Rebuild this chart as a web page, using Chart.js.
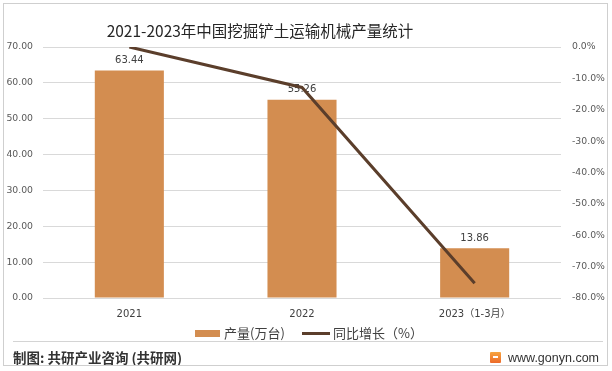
<!DOCTYPE html>
<html>
<head>
<meta charset="utf-8">
<script src="https://cdn.jsdelivr.net/npm/chart.js@4"></script>
<style>
  html, body { margin:0; padding:0; background:#fff; }
  #wrap { position:relative; width:612px; height:371px; overflow:hidden; font-family:"Noto Sans CJK SC","Noto Sans",sans-serif; }
  #box { position:absolute; left:3px; top:3px; width:605px; height:363px; border:1px solid #cfcfcf; box-sizing:border-box; pointer-events:none; }
  #cv { position:absolute; left:0; top:0; }
  #title { position:absolute; left:0; width:520px; top:19px; text-align:center; font-size:15.5px; color:#262626; line-height:22px; }
  #legend { position:absolute; top:325px; left:0; width:612px; height:16px; font-size:13px; color:#404040; }
  .sw { position:absolute; }
  .lt { position:absolute; top:0; line-height:16px; white-space:nowrap; }
  #sep { position:absolute; left:13px; top:341px; width:590px; height:1px; background:#d4d4d4; }
  #foot { position:absolute; left:13px; top:347px; font-size:13.5px; font-weight:bold; color:#333; line-height:20px; white-space:nowrap; }
  #site { position:absolute; left:508px; top:349px; font-size:12.5px; color:#333; line-height:18px; font-family:"Liberation Sans","Noto Sans",sans-serif; white-space:nowrap; }
  #logo { position:absolute; left:490px; top:352px; width:11px; height:11px; background:linear-gradient(#f7a540,#ec6a2a); border-radius:1px; }
  #logo:after { content:""; position:absolute; left:3px; top:4px; width:5px; height:2px; background:#fff; }
</style>
</head>
<body>
<div id="wrap">
  <canvas id="cv" width="612" height="371"></canvas>
  <div id="title">2021-2023年中国挖掘铲土运输机械产量统计</div>
  <div id="legend">
    <div class="sw" style="left:195px;top:5px;width:25px;height:7px;background:#D38D50"></div>
    <div class="lt" style="left:224px">产量(万台)</div>
    <div class="sw" style="left:302px;top:7px;width:28px;height:3px;background:#5B3E2B"></div>
    <div class="lt" style="left:333px">同比增长（%）</div>
  </div>
  <div id="sep"></div>
  <div id="foot">制图: 共研产业咨询 (共研网)</div>
  <div id="logo"></div>
  <div id="site">www.gonyn.com</div>
  <div id="box"></div>
</div>
<script>
const categories = ['2021', '2022', '2023（1-3月）'];
const outputValues = [63.44, 55.26, 13.86];
const growthValues = [0.0, -12.9, -75.3];
const leftAxisRange = [0, 70, 10];
const rightAxisRange = [-80, 0, 10];

const barColor = '#D38D50';
const lineColor = '#5B3E2B';
const tickFont = { size: 9.3, family: '"DejaVu Sans", sans-serif' };

const barLabels = {
  id: 'barLabels',
  afterDatasetDraw(chart, args) {
    if (args.index !== 0) return;
    const ctx = chart.ctx;
    const meta = chart.getDatasetMeta(0);
    ctx.save();
    ctx.font = '10px "DejaVu Sans", sans-serif';
    ctx.fillStyle = '#404040';
    ctx.textAlign = 'center';
    ctx.textBaseline = 'bottom';
    meta.data.forEach((el, i) => {
      ctx.fillText(outputValues[i].toFixed(2), el.x, el.y - 5);
    });
    ctx.restore();
  }
};

new Chart(document.getElementById('cv'), {
  data: {
    labels: categories,
    datasets: [
      {
        type: 'bar',
        label: '产量(万台)',
        data: outputValues,
        backgroundColor: barColor,
        yAxisID: 'y',
        barPercentage: 0.4,
        categoryPercentage: 1.0,
        order: 1
      },
      {
        type: 'line',
        label: '同比增长（%）',
        data: growthValues,
        borderColor: lineColor,
        backgroundColor: lineColor,
        borderWidth: 3,
        pointRadius: 0,
        tension: 0,
        yAxisID: 'y1',
        order: 0
      }
    ]
  },
  options: {
    responsive: false,
    animation: false,
    layout: { padding: { top: 47, bottom: 33, left: 0, right: 0 } },
    plugins: {
      legend: { display: false },
      title: { display: false },
      tooltip: { enabled: false }
    },
    scales: {
      x: {
        grid: { display: false },
        border: { display: false },
        ticks: { font: { size: 10, family: '"DejaVu Sans", "Noto Sans CJK SC", sans-serif' }, color: '#404040', padding: 2, maxRotation: 0 },
        afterFit(s) { s.height = 40; }
      },
      y: {
        position: 'left',
        min: leftAxisRange[0], max: leftAxisRange[1],
        ticks: { stepSize: leftAxisRange[2], callback: v => Number(v).toFixed(2), font: tickFont, color: '#595959', padding: 10 },
        grid: { color: '#d9d9d9', drawTicks: false, lineWidth: 1 },
        border: { display: false },
        afterFit(s) { s.width = 43; }
      },
      y1: {
        position: 'right',
        min: rightAxisRange[0], max: rightAxisRange[1],
        ticks: { stepSize: rightAxisRange[2], callback: v => Number(v).toFixed(1) + '%', font: tickFont, color: '#595959', padding: 11 },
        grid: { display: false, drawTicks: false },
        border: { display: false },
        afterFit(s) { s.width = 51; }
      }
    }
  },
  plugins: [barLabels]
});
</script>
</body>
</html>
